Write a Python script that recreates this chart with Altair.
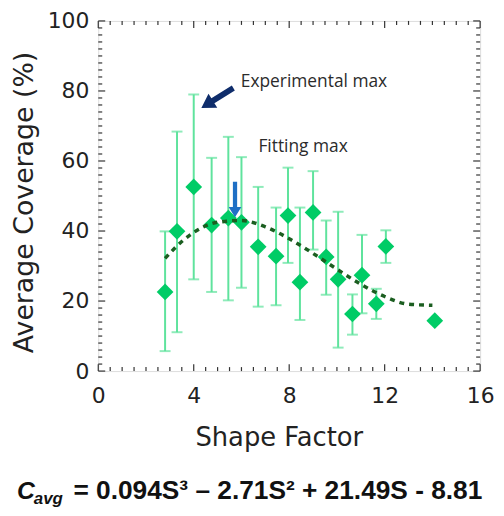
import altair as alt
import pandas as pd

# ---- data ----
shape_factor = [2.8, 3.3, 4.0, 4.75, 5.45, 6.0, 6.7, 7.45, 7.95, 8.45, 9.0, 9.55, 10.05, 10.65, 11.05, 11.65, 12.05, 14.1]
coverage = [22.6, 39.9, 52.6, 41.7, 43.7, 42.5, 35.5, 32.8, 44.4, 25.4, 45.3, 32.6, 26.2, 16.3, 27.4, 19.2, 35.6, 14.4]
err_top = [39.9, 68.4, 79.0, 60.9, 66.9, 61.1, 52.6, 46.7, 58.1, 46.7, 57.1, 43.0, 45.5, 21.9, 38.9, 23.5, 40.2, None]
err_bottom = [5.7, 11.1, 26.2, 22.6, 20.2, 23.8, 18.4, 18.8, 30.9, 14.6, 34.7, 21.8, 6.7, 10.4, 16.5, 14.9, 30.9, None]

fit_x = [2.8, 3.5, 4.0, 5.0, 6.0, 7.0, 8.0, 9.0, 10.0, 11.0, 12.0, 13.0, 14.0]
fit_y = [32.2, 37.0, 39.6, 42.5, 43.0, 41.2, 37.8, 33.6, 29.1, 24.8, 21.3, 19.1, 18.8]

x_labels = [0, 4, 8, 12, 16]
y_labels = [0, 20, 40, 60, 80, 100]
x_minor = [i * 0.5 for i in range(33) if (i * 0.5) % 4 != 0]
y_minor = [i * 2 for i in range(51) if (i * 2) % 20 != 0]

W, H = 385, 353
AX_FONT = "DejaVu Sans"
INK = "#222222"
FRAME = "#333333"

pts = pd.DataFrame({"x": shape_factor, "y": coverage})
err = pd.DataFrame({"x": shape_factor, "hi": err_top, "lo": err_bottom}).dropna()
fit = pd.DataFrame({"x": fit_x, "y": fit_y})

xs = alt.Scale(domain=[0, 16], nice=False, zero=False)
ys = alt.Scale(domain=[0, 100], nice=False, zero=False)


def X(field="x", axis=None):
    return alt.X(f"{field}:Q", scale=xs, axis=axis)


def Y(field="y", axis=None):
    return alt.Y(f"{field}:Q", scale=ys, axis=axis)


x_label_axis = alt.Axis(
    values=x_labels, ticks=False, tickSize=0, domain=False, grid=False,
    labelFont=AX_FONT, labelFontSize=22, labelColor=INK, labelPadding=31.5,
    labelBaseline="alphabetic", labelFlush=False, labelOverlap=False,
    title="Shape Factor", titleFont=AX_FONT, titleFontSize=26, titleFontWeight="normal",
    titleColor=INK, titleX=182, titleY=75, titleAlign="center", titleBaseline="alphabetic",
)
y_label_axis = alt.Axis(
    values=y_labels, ticks=False, tickSize=0, domain=False, grid=False,
    labelFont=AX_FONT, labelFontSize=22, labelColor=INK, labelPadding=9.5,
    labelFlush=False, labelOverlap=False,
    title="Average Coverage (%)", titleFont=AX_FONT, titleFontSize=27, titleFontWeight="normal",
    titleColor=INK, titleX=-66, titleY=182.5, titleAngle=-90, titleAlign="center",
    titleBaseline="alphabetic",
)

# ---- inward frame ticks on all four sides (drawn at the axis tick values) ----
xt_major = pd.DataFrame({"x": x_labels})
xt_minor = pd.DataFrame({"x": x_minor})
yt_major = pd.DataFrame({"y": y_labels})
yt_minor = pd.DataFrame({"y": y_minor})

tick_layers = []
for df, size in [(xt_major, 7), (xt_minor, 4)]:
    tick_layers.append(alt.Chart(df).mark_rule(color=FRAME, strokeWidth=1.2).encode(
        x=X(), y=alt.value(H), y2=alt.value(H - size)))
    tick_layers.append(alt.Chart(df).mark_rule(color=FRAME, strokeWidth=1.2).encode(
        x=X(), y=alt.value(0), y2=alt.value(size)))
for df, size in [(yt_major, 7), (yt_minor, 4)]:
    tick_layers.append(alt.Chart(df).mark_rule(color=FRAME, strokeWidth=1.2).encode(
        y=Y(), x=alt.value(0), x2=alt.value(size)))
    tick_layers.append(alt.Chart(df).mark_rule(color=FRAME, strokeWidth=1.2).encode(
        y=Y(), x=alt.value(W), x2=alt.value(W - size)))

BAR = "#5fe39d"

bars = alt.Chart(err).mark_rule(color=BAR, strokeWidth=2).encode(
    x=X(axis=x_label_axis), y=Y("hi", axis=y_label_axis), y2=alt.Y2("lo:Q")
)
caps_top = alt.Chart(err).mark_tick(color=BAR, orient="horizontal", size=11, thickness=2).encode(
    x=X(), y=Y("hi")
)
caps_bot = alt.Chart(err).mark_tick(color=BAR, orient="horizontal", size=11, thickness=2).encode(
    x=X(), y=Y("lo")
)
diamonds = alt.Chart(pts).mark_point(shape="diamond", filled=True, size=285, opacity=1, color="#00cc66").encode(
    x=X(), y=Y()
)
curve = alt.Chart(fit).mark_line(color="#1b5e20", strokeWidth=3.5, strokeDash=[5, 5], interpolate="monotone").encode(
    x=X(), y=Y()
)

# annotations (data coordinates)
ann_arrows = pd.DataFrame({"x": [4.99, 5.73], "y": [78.0, 49.0]})
navy = alt.Chart(ann_arrows.iloc[[0]]).mark_point(
    shape="M0,-1L0.44,-0.28L0.15,-0.28L0.15,1L-0.15,1L-0.15,-0.28L-0.44,-0.28Z",
    filled=True, size=1444, opacity=1, color="#0f2d6b", strokeWidth=0, angle=238,
).encode(x=X(), y=Y())
blue = alt.Chart(ann_arrows.iloc[[1]]).mark_point(
    shape="M0,-1L0.36,-0.42L0.12,-0.42L0.12,1L-0.12,1L-0.12,-0.42L-0.36,-0.42Z",
    filled=True, size=1270, opacity=1, color="#1f6fc5", strokeWidth=0, angle=180,
).encode(x=X(), y=Y())

ann_text = pd.DataFrame({"x": [5.97, 6.71], "y": [82.5, 63.9], "t": ["Experimental max", "Fitting max"]})
labels = alt.Chart(ann_text).mark_text(
    font="Open Sans", fontSize=17.5, color="#2b2b2b", align="left", baseline="middle"
).encode(x=X(), y=Y(), text="t:N")

# formula below the chart
one = pd.DataFrame({"k": [0]})
FX = "Liberation Sans"
BASE = 482
formula = [
    alt.Chart(one).mark_text(text="C", font=FX, fontSize=25, fontWeight="bold", fontStyle="italic",
                             align="left", baseline="alphabetic", color="#111111").encode(
        x=alt.value(17 - 99), y=alt.value(BASE)),
    alt.Chart(one).mark_text(text="avg", font=FX, fontSize=17, fontWeight="bold", fontStyle="italic",
                             align="left", baseline="alphabetic", color="#111111").encode(
        x=alt.value(34 - 99), y=alt.value(BASE + 5)),
    alt.Chart(one).mark_text(text="= 0.094S\u00b3 \u2013 2.71S\u00b2  + 21.49S  -  8.81", font=FX, fontSize=26.5,
                             fontWeight="bold", align="left", baseline="alphabetic", color="#111111").encode(
        x=alt.value(74 - 99), y=alt.value(BASE)),
]

chart = alt.layer(bars, *tick_layers, caps_top, caps_bot, diamonds, curve, navy, blue, labels, *formula).resolve_scale(
    x="independent", y="independent"
).properties(
    width=W, height=H, autosize="none",
    padding={"left": 91, "top": 11, "right": 16, "bottom": 136},
).configure_view(stroke=FRAME, strokeWidth=1.5).configure(background="white")

chart.save("out.html", embed_options={"renderer": "svg", "actions": False})
